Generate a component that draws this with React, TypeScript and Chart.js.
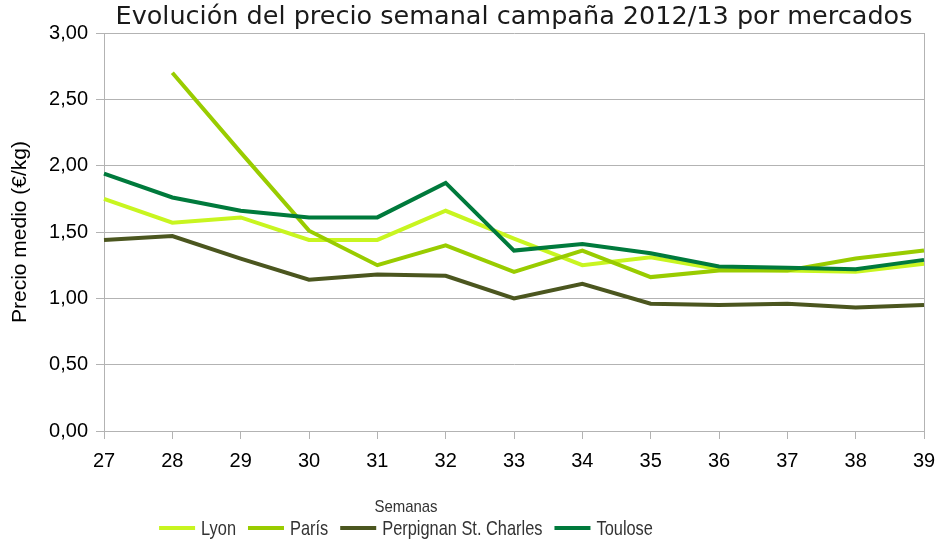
import React, { useEffect, useRef } from "react";
import { Chart, registerables } from "chart.js";

Chart.register(...registerables);

const weeks = ["27", "28", "29", "30", "31", "32", "33", "34", "35", "36", "37", "38", "39"];
const lyon = [1.75, 1.57, 1.61, 1.44, 1.44, 1.66, 1.45, 1.25, 1.31, 1.22, 1.21, 1.2, 1.26];
const paris = [null, 2.7, 2.1, 1.51, 1.25, 1.4, 1.2, 1.36, 1.16, 1.21, 1.21, 1.3, 1.36];
const perpignan = [1.44, 1.47, 1.3, 1.14, 1.18, 1.17, 1.0, 1.11, 0.96, 0.95, 0.96, 0.93, 0.95];
const toulose = [1.94, 1.76, 1.66, 1.61, 1.61, 1.87, 1.36, 1.41, 1.34, 1.24, 1.23, 1.22, 1.29];
const seriesNames = ["Lyon", "París", "Perpignan St. Charles", "Toulose"];
const seriesColors = ["#c8f520", "#99cc00", "#4b561f", "#007a3c"];
const titleText = "Evolución del precio semanal campaña 2012/13 por mercados";
const xTitle = "Semanas";
const yTitle = "Precio medio (€/kg)";

const GRID = "#b3b3b3";
const DECO_FONT = "'DejaVu Sans', sans-serif";
const TICK_FONT = "'Liberation Sans', Arial, sans-serif";

const decoPlugin = {
  id: "deco",
  afterDraw(chart: any) {
    const ctx = chart.ctx as CanvasRenderingContext2D;
    const area = chart.chartArea;
    ctx.save();
    // title
    ctx.fillStyle = "#1a1a1a";
    ctx.font = `25.5px ${DECO_FONT}`;
    ctx.textAlign = "center";
    ctx.textBaseline = "middle";
    ctx.fillText(titleText, (area.left + area.right) / 2, 17);
    // x axis title (horizontally condensed)
    const cx = 406;
    ctx.fillStyle = "#333333";
    ctx.font = `17px ${TICK_FONT}`;
    ctx.save();
    ctx.translate(cx, 507);
    ctx.scale(0.88, 1);
    ctx.fillText(xTitle, 0, 0);
    ctx.restore();
    // legend (horizontally condensed text)
    const sx = 0.78;
    ctx.font = `21px ${TICK_FONT}`;
    const lineW = 36;
    const gapText = 6;
    const gapItem = 12;
    const widths = seriesNames.map((n) => ctx.measureText(n).width * sx);
    const total = widths.reduce((a, w) => a + lineW + gapText + w, 0) + gapItem * (seriesNames.length - 1);
    let x = cx - total / 2;
    const y = 528;
    ctx.textAlign = "left";
    seriesNames.forEach((n, i) => {
      ctx.strokeStyle = seriesColors[i];
      ctx.lineWidth = 4;
      ctx.beginPath();
      ctx.moveTo(x, y);
      ctx.lineTo(x + lineW, y);
      ctx.stroke();
      x += lineW + gapText;
      ctx.fillStyle = "#333333";
      ctx.save();
      ctx.translate(x, y + 1);
      ctx.scale(sx, 1);
      ctx.fillText(n, 0, 0);
      ctx.restore();
      x += widths[i] + gapItem;
    });
    ctx.restore();
  },
};

export default function App() {
  const ref = useRef<HTMLCanvasElement>(null);
  useEffect(() => {
    if (!ref.current) return;
    const seriesData = [lyon, paris, perpignan, toulose];
    const chart = new Chart(ref.current, {
      type: "line",
      data: {
        labels: weeks,
        datasets: seriesData.map((d, i) => ({
          label: seriesNames[i],
          data: d,
          borderColor: seriesColors[i],
          backgroundColor: seriesColors[i],
          borderWidth: 4,
          pointRadius: 0,
          tension: 0,
          fill: false,
          order: 4 - i,
        })),
      },
      options: {
        animation: false,
        responsive: false,
        maintainAspectRatio: false,
        layout: { padding: { left: 0, right: 17, top: 33, bottom: 0 } },
        plugins: {
          legend: { display: false },
          title: { display: false },
          tooltip: { enabled: false },
        },
        scales: {
          x: {
            type: "category",
            offset: false,
            afterFit: (s: any) => {
              s.height = 118;
              s.paddingLeft = 0;
              s.paddingRight = 0;
            },
            grid: {
              color: (c: any) => (c.index === weeks.length - 1 ? GRID : "rgba(0,0,0,0)"),
              tickColor: GRID,
              tickLength: 8,
              lineWidth: 1,
            },
            border: { display: true, color: GRID },
            ticks: {
              color: "#000000",
              font: { family: TICK_FONT, size: 20 },
              padding: 10,
              maxRotation: 0,
              autoSkip: false,
            },
          },
          y: {
            min: 0,
            max: 3,
            afterFit: (s: any) => {
              s.width = 104;
              s.paddingTop = 0;
              s.paddingBottom = 0;
            },
            grid: { color: GRID, tickColor: GRID, tickLength: 8, lineWidth: 1 },
            border: { display: true, color: GRID },
            ticks: {
              stepSize: 0.5,
              color: "#000000",
              font: { family: TICK_FONT, size: 20 },
              padding: 8,
              callback: (v: any) => Number(v).toFixed(2).replace(".", ","),
            },
            title: {
              display: true,
              text: yTitle,
              color: "#000000",
              font: { family: TICK_FONT, size: 21 },
              padding: { top: 8, bottom: 0 },
            },
          },
        },
      },
      plugins: [decoPlugin],
    });
    return () => chart.destroy();
  }, []);
  return (
    <div style={{ position: "fixed", left: 0, top: 0, width: 941, height: 549, background: "#fff" }}>
      <canvas ref={ref} width={941} height={549} style={{ width: 941, height: 549 }} />
    </div>
  );
}
